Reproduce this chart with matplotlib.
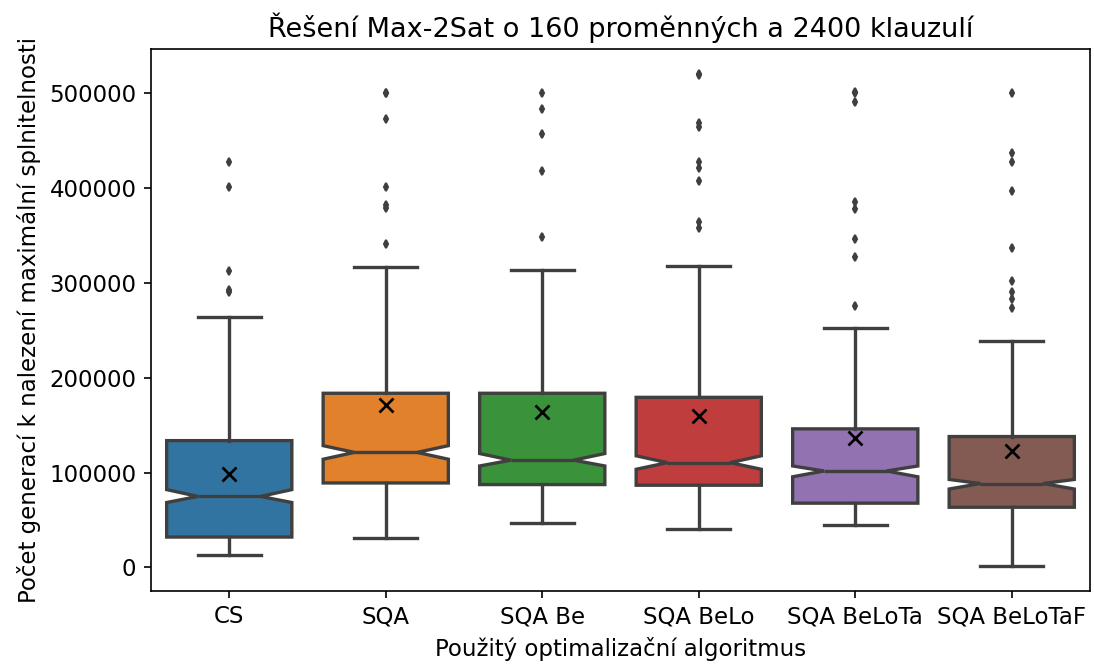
import matplotlib
matplotlib.use("Agg")
import matplotlib.pyplot as plt

# Algoritmy a odečtené statistiky krabicových grafů
algoritmy = ["CS", "SQA", "SQA Be", "SQA BeLo", "SQA BeLoTa", "SQA BeLoTaF"]
q1 = [32000, 89000, 87300, 86600, 67700, 63400]
median = [74800, 121200, 113000, 110400, 101600, 88400]
q3 = [133600, 183500, 183500, 179200, 146000, 137900]
whis_lo = [13500, 31000, 47000, 41000, 45200, 1400]
whis_hi = [263700, 316800, 313200, 317200, 252000, 238400]
prumer = [98300, 171000, 163900, 159700, 136000, 122200]
notch_lo = [68400, 114000, 106900, 103400, 95500, 82600]
notch_hi = [82000, 128300, 120000, 117600, 106900, 92700]
odlehle = [
    [427000, 401000, 312000, 292000, 290000],
    [500000, 500000, 472000, 401000, 382000, 378600, 340700],
    [500000, 482500, 456500, 417600, 348200],
    [520000, 519000, 468600, 464000, 427600, 421000, 407000, 364000, 358000],
    [500600, 500000, 490000, 384800, 377700, 345600, 326800, 275500],
    [500000, 436500, 427600, 396300, 336700, 302200, 289700, 283300, 273300],
]
barvy = ["#3274a1", "#e1812c", "#3a923a", "#c03d3e", "#9372b2", "#845b53"]
seda = "#3f3f3f"

stats = []
for i, nazev in enumerate(algoritmy):
    stats.append(dict(label=nazev, q1=q1[i], med=median[i], q3=q3[i],
                      whislo=whis_lo[i], whishi=whis_hi[i], mean=prumer[i],
                      cilo=notch_lo[i], cihi=notch_hi[i], fliers=odlehle[i]))

fig, ax = plt.subplots(figsize=(1094 / 150, 664 / 150), dpi=150)
bp = ax.bxp(stats, positions=range(len(algoritmy)), widths=0.8,
            patch_artist=True, shownotches=True, showmeans=True,
            boxprops=dict(edgecolor=seda, linewidth=1.6),
            whiskerprops=dict(color=seda, linewidth=1.6),
            capprops=dict(color=seda, linewidth=1.6),
            medianprops=dict(color=seda, linewidth=1.6),
            flierprops=dict(marker="d", markersize=2.8, markerfacecolor=seda,
                            markeredgecolor=seda, linestyle="none"),
            meanprops=dict(marker="x", markersize=6.5, markeredgecolor="black",
                           markeredgewidth=1.3))
for box, barva in zip(bp["boxes"], barvy):
    box.set_facecolor(barva)

ax.set_xlim(-0.5, len(algoritmy) - 0.5)
ax.tick_params(labelsize=11)
ax.set_title("Řešení Max-2Sat o 160 proměnných a 2400 klauzulí", fontsize=13)
ax.set_xlabel("Použitý optimalizační algoritmus", fontsize=11)
ax.set_ylabel("Počet generací k nalezení maximální splnitelnosti", fontsize=11)

plt.subplots_adjust(left=151 / 1094, right=1090 / 1094, top=1 - 49.3 / 664, bottom=1 - 590.7 / 664)
plt.savefig("out.png", dpi=150)
